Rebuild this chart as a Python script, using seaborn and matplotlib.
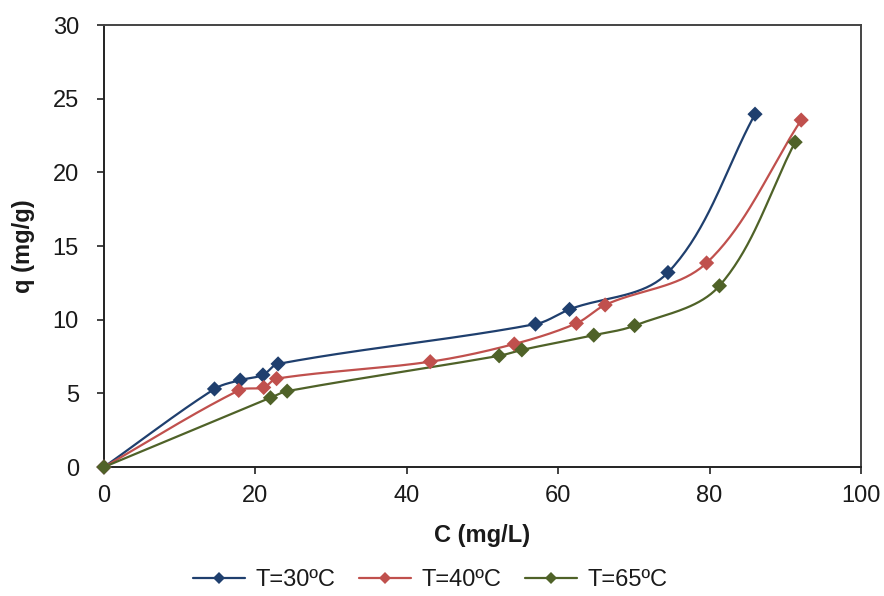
import numpy as np
import pandas as pd
import matplotlib
matplotlib.use("Agg")
import matplotlib.pyplot as plt
import seaborn as sns
from matplotlib.lines import Line2D

# ---- data ----
series_names = ["T=30ºC", "T=40ºC", "T=65ºC"]
c_30 = [0, 14.6, 18.0, 21.0, 23.0, 57.0, 61.5, 74.5, 86.0]
q_30 = [0, 5.3, 5.9, 6.25, 7.0, 9.7, 10.7, 13.2, 23.95]
c_40 = [0, 17.8, 21.1, 22.8, 43.1, 54.2, 62.4, 66.2, 79.6, 92.1]
q_40 = [0, 5.2, 5.4, 6.0, 7.15, 8.35, 9.75, 11.0, 13.85, 23.55]
c_65 = [0, 22.0, 24.2, 52.2, 55.2, 64.7, 70.1, 81.3, 91.3]
q_65 = [0, 4.7, 5.15, 7.55, 7.95, 8.95, 9.6, 12.3, 22.05]
colors = ["#1F3F6E", "#C0504D", "#4F6228"]
x_ticks = [0, 20, 40, 60, 80, 100]
y_ticks = [0, 5, 10, 15, 20, 25, 30]

# approximate screen scale (pixels per data unit) used only for smoothing geometry
SX, SY = 7.56, 14.7


def smooth(xs, ys, n=40):
    """Smoothed line through the points (Bezier with chord-proportional tangents)."""
    P = np.column_stack([np.asarray(xs) * SX, np.asarray(ys) * SY]).astype(float)
    m = len(P)
    tang = np.zeros_like(P)
    for i in range(m):
        p_prev = P[i - 1] if i > 0 else P[i]
        p_next = P[i + 1] if i + 1 < m else P[i]
        d = p_next - p_prev
        nd = np.linalg.norm(d)
        tang[i] = d / nd if nd > 0 else 0
    out = []
    for i in range(m - 1):
        p1, p2 = P[i], P[i + 1]
        L = np.linalg.norm(p2 - p1)
        c1 = p1 + tang[i] * L / 3.0
        c2 = p2 - tang[i + 1] * L / 3.0
        t = np.linspace(0, 1, n)[:, None]
        seg = ((1 - t) ** 3) * p1 + 3 * ((1 - t) ** 2) * t * c1 + 3 * (1 - t) * t ** 2 * c2 + t ** 3 * p2
        out.append(seg if i == 0 else seg[1:])
    s = np.vstack(out)
    return s[:, 0] / SX, s[:, 1] / SY


pts = []
curves = []
for name, cx, qy in zip(series_names, [c_30, c_40, c_65], [q_30, q_40, q_65]):
    pts.append(pd.DataFrame({"C": cx, "q": qy, "T": name}))
    sx, sy = smooth(cx, qy)
    curves.append(pd.DataFrame({"C": sx, "q": sy, "T": name}))
pts = pd.concat(pts, ignore_index=True)
curves = pd.concat(curves, ignore_index=True)

sns.set_style("white")
plt.rcParams["font.family"] = ["Liberation Sans", "DejaVu Sans"]

fig = plt.figure(figsize=(8.84, 5.96), dpi=100)
ax = fig.add_axes([0.1176, 0.2164, 0.8564, 0.7416])
palette = dict(zip(series_names, colors))

sns.lineplot(data=curves, x="C", y="q", hue="T", units="T", estimator=None,
             sort=False, palette=palette, linewidth=1.6, legend=False, ax=ax)
sns.scatterplot(data=pts, x="C", y="q", hue="T", palette=palette, marker="D",
                s=60, edgecolor="none", legend=False, ax=ax, zorder=3, clip_on=False)

ax.set_xlim(0, 100)
ax.set_ylim(0, 30)
ax.set_xticks(x_ticks)
ax.set_yticks(y_ticks)
ax.tick_params(axis="both", direction="out", length=5, width=1.2, color="#222222",
               labelsize=17, labelcolor="#1a1a1a")
ax.tick_params(axis="y", left=True, pad=13)
ax.tick_params(axis="x", bottom=True, pad=8)
for side in ["left", "bottom"]:
    ax.spines[side].set_color("#222222")
    ax.spines[side].set_linewidth(1.4)
for side in ["top", "right"]:
    ax.spines[side].set_color("#444444")
    ax.spines[side].set_linewidth(1.4)

ax.set_xlabel("C (mg/L)", fontsize=17, fontweight="bold", labelpad=12, color="#1a1a1a")
ax.set_ylabel("q (mg/g)", fontsize=17, fontweight="bold", labelpad=13, color="#1a1a1a")

handles = [Line2D([0], [0], color=c, lw=1.6, marker="D", markersize=6.5, markeredgewidth=0)
           for c in colors]
fig.legend(handles, series_names, loc="center", bbox_to_anchor=(0.487, 0.027), ncol=3,
           frameon=False, fontsize=17, handlelength=2.2, handletextpad=0.45,
           columnspacing=1.0, labelcolor="#1a1a1a")

fig.savefig("out.png", dpi=100, facecolor="white")
